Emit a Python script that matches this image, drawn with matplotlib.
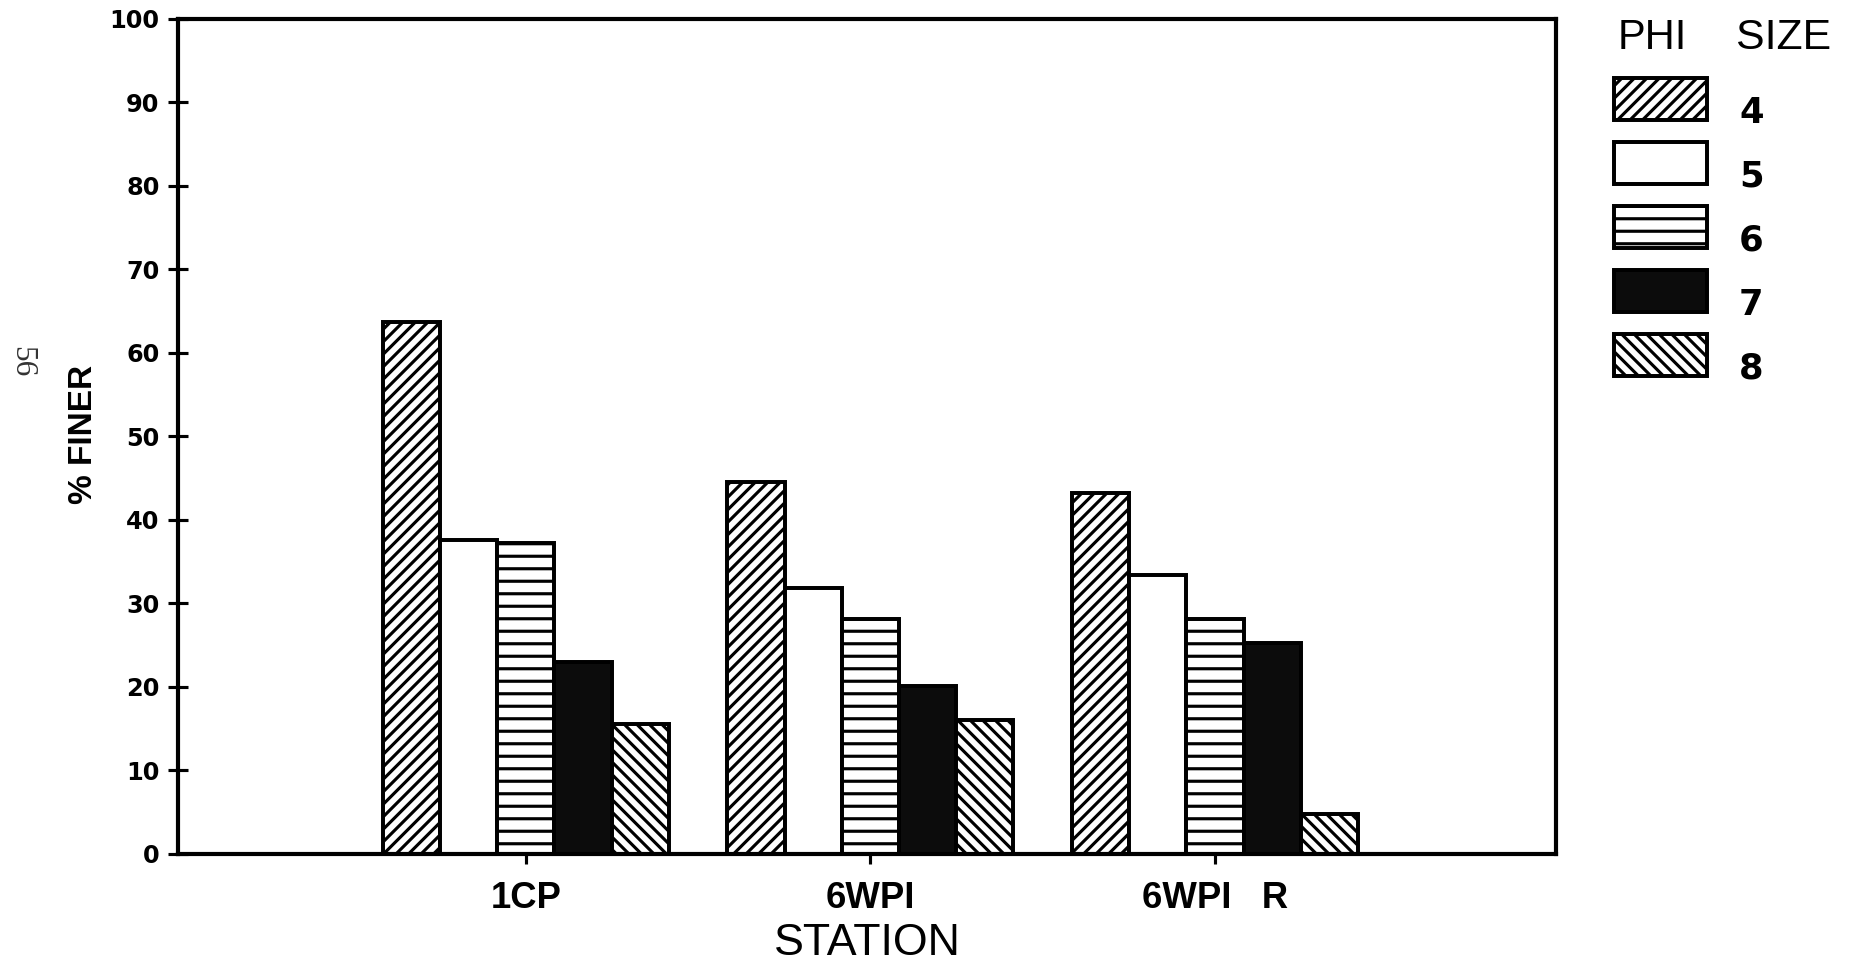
import matplotlib
matplotlib.use("Agg")
import matplotlib.pyplot as plt
from matplotlib import font_manager as fm
import numpy as np

# ---------------- data ----------------
stations = ['1CP', '6WPI', '6WPI   R']
phi_sizes = ['4', '5', '6', '7', '8']
phi4 = [63.7, 44.5, 43.2]
phi5 = [37.6, 31.8, 33.4]
phi6 = [37.3, 28.2, 28.2]
phi7 = [23.0, 20.1, 25.3]
phi8 = [15.6, 16.1, 4.8]
yticks = [0, 10, 20, 30, 40, 50, 60, 70, 80, 90, 100]

series = [phi4, phi5, phi6, phi7, phi8]
fills = ['white', 'white', 'white', '#0c0c0c', 'white']
hatches = ['////', None, '--', None, '\\\\\\\\']

# ---------------- fonts ----------------
names = {f.name for f in fm.fontManager.ttflist}
SANS = 'Liberation Sans' if 'Liberation Sans' in names else 'DejaVu Sans'
SERIF = 'Liberation Serif' if 'Liberation Serif' in names else 'DejaVu Serif'
if 'Liberation Sans Narrow' in names:
    NARROW, narrow_size = 'Liberation Sans Narrow', 18
elif 'DejaVu Sans Condensed' in names:
    NARROW, narrow_size = 'DejaVu Sans Condensed', 16
else:
    NARROW, narrow_size = SANS, 16

plt.rcParams['hatch.linewidth'] = 1.5
plt.rcParams['hatch.color'] = 'black'

DPI = 150
fig = plt.figure(figsize=(1861 / DPI, 963 / DPI), dpi=DPI)
fig.patch.set_facecolor('white')
ax = fig.add_axes([0.0956, 0.1132, 0.7405, 0.8671])

x = np.arange(len(stations))
w = 0.166
handles = []
for i, (vals, fc, h) in enumerate(zip(series, fills, hatches)):
    bars = ax.bar(x + (i - 2) * w, vals, width=w, facecolor=fc,
                  edgecolor='black', linewidth=1.9, hatch=h,
                  label=phi_sizes[i], zorder=2)
    handles.append(bars)

ax.set_xlim(-1.01, 2.99)
ax.set_ylim(0, 100)
ax.set_yticks(yticks)
ax.set_yticklabels([str(t) for t in yticks], fontfamily='DejaVu Sans',
                   fontweight='bold', fontsize=11.5)
ax.set_xticks(x)
ax.set_xticklabels(stations, fontfamily=SANS, fontweight='bold', fontsize=17.5)
ax.tick_params(axis='y', direction='inout', length=9.6, width=1.5, pad=4.0)
ax.tick_params(axis='x', direction='out', length=5, width=1.5, pad=8)
for s in ax.spines.values():
    s.set_linewidth(2.0)
    s.set_color('black')

xl = ax.set_xlabel('STATION', fontfamily=SANS, fontsize=21.5)
xl.set_va('baseline')
ax.xaxis.set_label_coords(0.5, -0.121)
ax.set_ylabel('% FINER', fontfamily=NARROW, fontweight='bold',
              fontsize=narrow_size)
ax.yaxis.set_label_coords(-0.0575, 0.503)

# legend
leg = fig.legend(handles=handles, labels=phi_sizes, loc='upper left',
                 bbox_to_anchor=(0.8673, 0.919), frameon=False,
                 borderpad=0, borderaxespad=0,
                 prop={'family': 'DejaVu Sans', 'weight': 'bold', 'size': 17},
                 handlelength=2.63, handleheight=1.45, labelspacing=0.62,
                 handletextpad=0.9)
for t in leg.get_texts():
    t.set_y(-12)

fig.text(1652 / 1861, 1 - 38 / 963, 'PHI', fontfamily=SANS, fontsize=20,
         ha='center', va='center')
fig.text(1784 / 1861, 1 - 38 / 963, 'SIZE', fontfamily=SANS, fontsize=20.5,
         ha='center', va='center')

# page number in margin
fig.text(22 / 1861, 1 - 362 / 963, '56', fontfamily=SERIF, fontsize=15,
         rotation=-90, ha='center', va='center', color='#333333')

fig.savefig('out.png', dpi=DPI, facecolor='white')
